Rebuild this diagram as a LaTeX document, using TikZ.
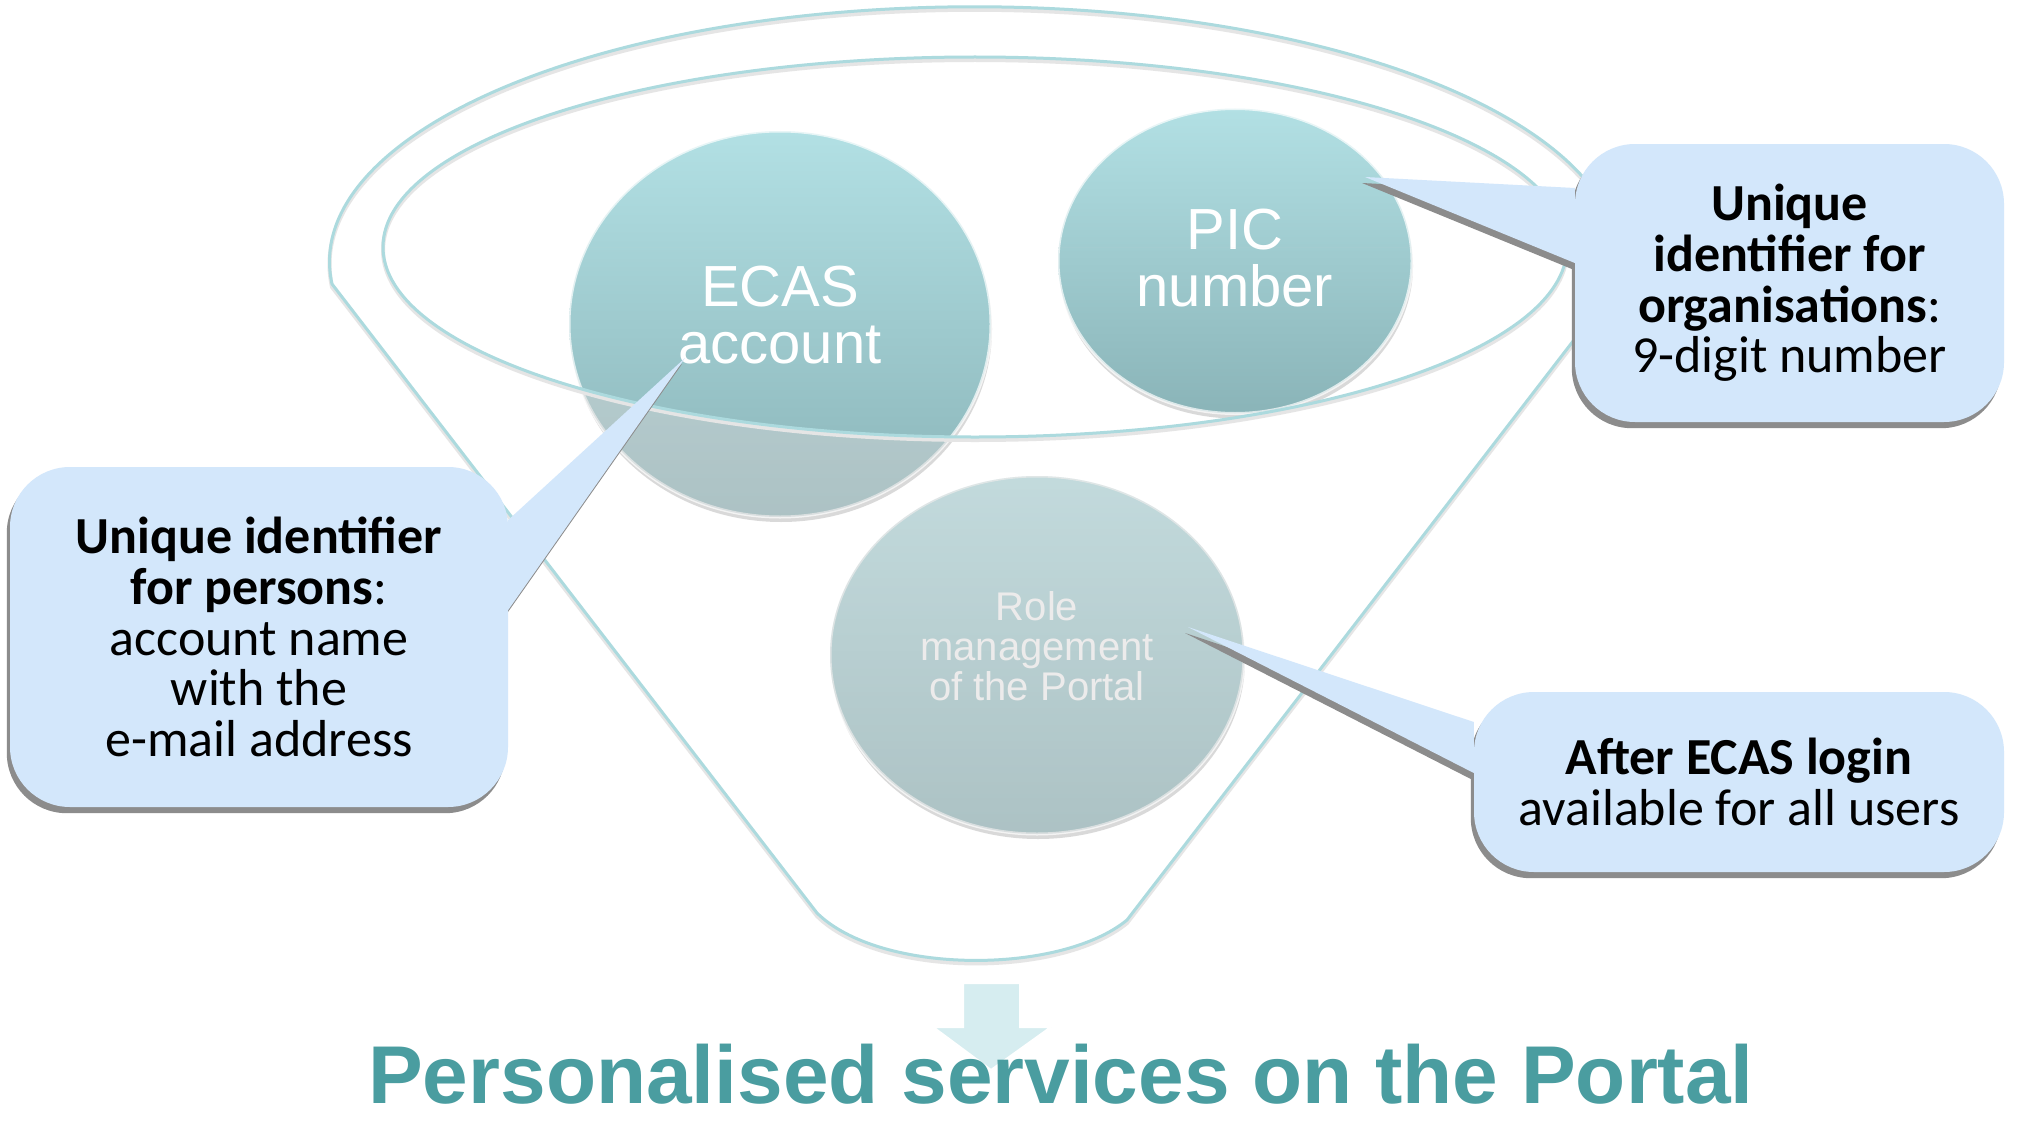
\documentclass[tikz,border=0pt]{standalone}
\usepackage{fontspec}
\setmainfont{Liberation Sans}
\newfontfamily\calloutfont{Carlito}
\usetikzlibrary{shapes.geometric,shadows}

\definecolor{rimcyan}{RGB}{172,218,222}
\definecolor{disctop}{RGB}{178,224,228}
\definecolor{discbottom}{RGB}{138,180,184}
\definecolor{bubbleblue}{RGB}{211,231,251}
\definecolor{bubbleshadow}{RGB}{140,140,140}
\definecolor{titleteal}{RGB}{74,157,160}
\definecolor{arrowcyan}{RGB}{214,237,240}
\definecolor{glassgrey}{RGB}{215,212,212}

\pgfdeclarelayer{shade}
\pgfdeclarelayer{bubbles}
\pgfsetlayers{main,shade,bubbles}

\tikzset{
  disc/.style={ellipse, inner sep=0pt, top color=disctop, bottom color=discbottom,
    draw=white, draw opacity=0.7, line width=3pt, text=white, align=center,
    text depth=18pt, font=\fontsize{58}{57}\selectfont,
    drop shadow={shadow xshift=1pt, shadow yshift=-5pt, fill=black, opacity=0.15}},
  rim/.style={draw=rimcyan, line width=3pt},
  rimshade/.style={draw=black!10, line width=4pt, transform canvas={yshift=-3pt}},
  glass/.style={fill=glassgrey, fill opacity=0.45},
  bubble/.style={rectangle, rounded corners=60pt, fill=bubbleblue, inner sep=0pt,
    align=center, font=\calloutfont\fontsize{52}{50.8}\selectfont},
  bubblefill/.style={fill=bubbleblue},
  bubbleshade/.style={fill=bubbleshadow, transform canvas={xshift=-3pt, yshift=-6pt}},
  downarrow/.style={fill=arrowcyan, draw=white, line width=2pt},
  title/.style={anchor=base, inner sep=0pt, text=titleteal,
    font=\fontsize{82}{90}\selectfont\bfseries},
}

\begin{document}
\begin{tikzpicture}[x=1pt, y=-1pt]
  \path[use as bounding box, fill=white] (0,0) rectangle (2017,1121);

  % funnel
  \draw[rimshade] (332,284) arc[start angle=175, end angle=365, x radius=645, y radius=255]
    -- (1127,920) .. controls (1060,975) and (880,975) .. (817,913) -- cycle;
  \draw[rim] (332,284) arc[start angle=175, end angle=365, x radius=645, y radius=255]
    -- (1127,920) .. controls (1060,975) and (880,975) .. (817,913) -- cycle;

  % discs
  \node[disc, minimum width=422pt, minimum height=386pt] (ecas) at (780,324) {ECAS\\account};
  \node[disc, minimum width=354pt, minimum height=305pt, text depth=6pt] (pic) at (1235,261) {PIC\\number};
  \node[disc, minimum width=414pt, minimum height=358pt, font=\fontsize{40}{40}\selectfont]
    (role) at (1037,655) {Role\\management\\of the Portal};

  % glass of the funnel below the front rim
  \begin{scope}[even odd rule]
    \clip (0,247) rectangle (2017,1121)
      (383,247) arc[start angle=180, end angle=0, x radius=592, y radius=190] -- cycle;
    \fill[glass] (ecas.center) ellipse [x radius=211, y radius=193];
    \fill[glass] (pic.center) ellipse [x radius=177, y radius=152];
    \fill[glass] (role.center) ellipse [x radius=207, y radius=179];
  \end{scope}

  \draw[rimshade] (975,247) ellipse [x radius=592, y radius=190];
  \draw[rim] (975,247) ellipse [x radius=592, y radius=190];

  \coordinate (ecastip) at ([shift={(-95,34)}]ecas.center);
  \coordinate (pictip) at ([shift={(130,-84)}]pic.center);
  \coordinate (roletip) at ([shift={(151,-28)}]role.center);

  % callouts
  \begin{pgfonlayer}{bubbles}
    \node[bubble, minimum width=498pt, minimum height=340pt] (persons) at (259,637)
      {\textbf{Unique identifier}\\\textbf{for persons}:\\account name\\with the\\e-mail address};
    \fill[bubblefill] ([yshift=117pt]persons.east) -- (ecastip) -- ([yshift=27pt]persons.east) -- cycle;

    \node[bubble, minimum width=429pt, minimum height=278pt] (orgs) at (1789.5,283)
      {\textbf{Unique}\\\textbf{identifier for}\\\textbf{organisations}:\\9-digit number};
    \fill[bubblefill] ([yshift=95pt]orgs.west) -- (pictip) -- ([yshift=20pt]orgs.west) -- cycle;

    \node[bubble, minimum width=530pt, minimum height=180pt] (login) at (1739,782)
      {\textbf{After ECAS login}\\available for all users};
    \fill[bubblefill] ([yshift=60pt]login.west) -- (roletip) -- ([yshift=9pt]login.west) -- cycle;
  \end{pgfonlayer}

  \begin{pgfonlayer}{shade}
    \fill[bubbleshade, rounded corners=60pt] (persons.north west) rectangle (persons.south east);
    \fill[bubbleshade] ([yshift=117pt]persons.east) -- (ecastip) -- ([yshift=27pt]persons.east) -- cycle;
    \fill[bubbleshade, rounded corners=60pt] (orgs.north west) rectangle (orgs.south east);
    \fill[bubbleshade] ([yshift=95pt]orgs.west) -- (pictip) -- ([yshift=20pt]orgs.west) -- cycle;
    \fill[bubbleshade, rounded corners=60pt] (login.north west) rectangle (login.south east);
    \fill[bubbleshade] ([yshift=60pt]login.west) -- (roletip) -- ([yshift=9pt]login.west) -- cycle;
  \end{pgfonlayer}

  % result
  \draw[downarrow] (963,983) -- (1020,983) -- (1020,1027) -- (1051,1027) -- (991,1070)
    -- (933,1027) -- (963,1027) -- cycle;
  \node[title] (portal) at (1061,1103) {Personalised services on the Portal};
\end{tikzpicture}
\end{document}
